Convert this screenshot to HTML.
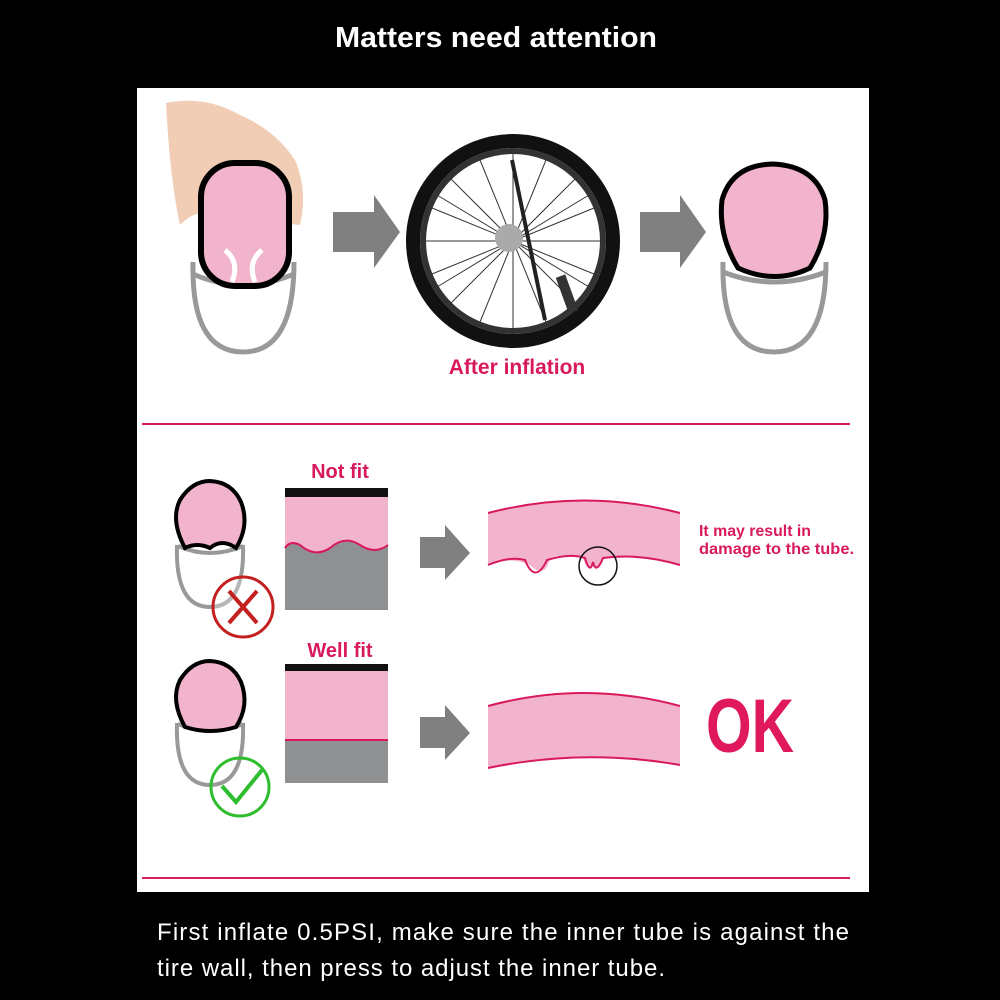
<!DOCTYPE html>
<html><head><style>
html,body{margin:0;padding:0;background:#000;}
svg{display:block}
text{font-family:"Liberation Sans",sans-serif}
</style></head><body>
<svg width="1000" height="1000" viewBox="0 0 1000 1000" xmlns="http://www.w3.org/2000/svg">
<rect width="1000" height="1000" fill="#000"/>
<text x="335" y="47" fill="#fff" font-size="29" font-weight="bold" textLength="322" lengthAdjust="spacingAndGlyphs">Matters need attention</text>
<rect x="137" y="88" width="732" height="804" fill="#fff"/>
<line x1="142" y1="424" x2="850" y2="424" stroke="#d9195e" stroke-width="2"/>
<line x1="142" y1="878" x2="850" y2="878" stroke="#d9195e" stroke-width="2"/>

<!-- tire 1 with hand -->
<path d="M193 262 Q191 352 243 352 Q294 352 294 262" fill="none" stroke="#999" stroke-width="5"/>
<path d="M193 274 Q243 296 294 274" fill="none" stroke="#999" stroke-width="5"/>
<path d="M166 103 Q205 95 240 115 Q275 130 295 160 Q308 190 300 225 L205 215 Q195 210 180 225 Q170 180 166 103Z" fill="#f1cdb6"/>
<rect x="201" y="163" width="88" height="123" rx="34" fill="#f2b3cc" stroke="#000" stroke-width="6"/>
<path d="M225 250 Q240 262 232 282 M262 250 Q247 262 255 282" stroke="#fff" stroke-width="5" fill="none"/>

<!-- arrow 1 -->
<path d="M333 212 H374 V195 L400 232 L374 268 V252 H333Z" fill="#808080"/>

<!-- wheel -->
<circle cx="513" cy="241" r="100" fill="none" stroke="#111" stroke-width="14"/>
<circle cx="513" cy="241" r="90" fill="none" stroke="#333" stroke-width="6"/>
<g stroke="#333" stroke-width="1">
<line x1="426" y1="241" x2="600" y2="241"/><line x1="513" y1="154" x2="513" y2="328"/>
<line x1="451" y1="179" x2="575" y2="303"/><line x1="575" y1="179" x2="451" y2="303"/>
<line x1="432" y1="208" x2="594" y2="274"/><line x1="594" y1="208" x2="432" y2="274"/>
<line x1="480" y1="160" x2="546" y2="322"/><line x1="546" y1="160" x2="480" y2="322"/>
<line x1="437" y1="195" x2="589" y2="287"/><line x1="589" y1="195" x2="437" y2="287"/>
</g>
<circle cx="509" cy="238" r="14" fill="#aaa"/>
<path d="M512 160 Q520 200 545 320" stroke="#222" stroke-width="4" fill="none"/>
<rect x="562" y="275" width="10" height="38" fill="#333" transform="rotate(-20 567 294)"/>
<text x="517" y="374" fill="#d9195e" font-size="21" font-weight="bold" text-anchor="middle">After inflation</text>

<!-- arrow 2 -->
<path d="M640 212 H680 V195 L706 232 L680 268 V252 H640Z" fill="#808080"/>

<!-- tire 3 -->
<path d="M723 262 Q721 352 774 352 Q826 352 826 262" fill="none" stroke="#999" stroke-width="5"/>
<path d="M723 272 Q774 292 826 272" fill="none" stroke="#999" stroke-width="5"/>
<path d="M738 268 Q718 235 722 200 Q732 165 773 164 Q815 166 825 200 Q830 235 810 268 Q775 285 738 268Z" fill="#f2b3cc" stroke="#000" stroke-width="5"/>

<!-- Not fit -->
<text x="340" y="478" fill="#d9195e" font-size="20" font-weight="bold" text-anchor="middle">Not fit</text>
<path d="M177 545 Q175 607 210 607 Q245 607 243 545" fill="none" stroke="#999" stroke-width="4"/>
<path d="M178 546 Q210 560 243 546" fill="none" stroke="#999" stroke-width="4"/>
<path d="M185 548 Q170 520 180 500 Q192 481 210 481 Q232 482 241 502 Q250 525 236 548 Q222 538 210 548 Q197 542 185 548Z" fill="#f2b3cc" stroke="#000" stroke-width="4"/>
<circle cx="243" cy="607" r="30" fill="#fff" fill-opacity="0.3" stroke="#c52020" stroke-width="3"/>
<path d="M229 591 L257 623 M257 591 L229 623" stroke="#c52020" stroke-width="4"/>
<rect x="285" y="488" width="103" height="9" fill="#111"/>
<path d="M285 497 H388 V545 Q375 555 360 545 Q345 535 330 548 Q315 558 300 545 Q290 540 285 548Z" fill="#f2b3cc"/>
<path d="M285 548 Q290 540 300 545 Q315 558 330 548 Q345 535 360 545 Q375 555 388 545 V610 H285Z" fill="#8f9092"/>
<path d="M285 548 Q290 540 300 545 Q315 558 330 548 Q345 535 360 545 Q375 555 388 545" stroke="#d9195e" stroke-width="2" fill="none"/>
<path d="M420 537 H445 V525 L470 553 L445 580 V568 H420Z" fill="#808080"/>
<path d="M488 513 Q584 488 680 513 V565 Q640 555 603 558 Q598 575 593 562 Q588 575 583 558 Q560 553 550 558 Q545 580 530 565 Q510 556 488 565Z" fill="#f2b3cc"/>
<path d="M488 513 Q584 488 680 513" stroke="#d9195e" stroke-width="2" fill="none"/>
<path d="M488 565 Q510 556 525 560 Q535 585 547 560 Q570 553 585 558 Q590 575 593 562 Q596 575 603 558 Q640 553 680 565" stroke="#d9195e" stroke-width="2" fill="none"/>
<circle cx="598" cy="566" r="19" fill="none" stroke="#111" stroke-width="1.5"/>
<text x="699" y="536" fill="#d9195e" font-size="16" font-weight="bold" textLength="112" lengthAdjust="spacingAndGlyphs">It may result in</text>
<text x="699" y="554" fill="#d9195e" font-size="16" font-weight="bold" textLength="155" lengthAdjust="spacingAndGlyphs">damage to the tube.</text>

<!-- Well fit -->
<text x="340" y="657" fill="#d9195e" font-size="20" font-weight="bold" text-anchor="middle">Well fit</text>
<path d="M177 723 Q175 785 210 785 Q245 785 243 723" fill="none" stroke="#999" stroke-width="4"/>
<path d="M178 724 Q210 738 243 724" fill="none" stroke="#999" stroke-width="4"/>
<path d="M185 727 Q170 700 180 680 Q192 661 210 661 Q232 662 241 682 Q250 705 236 727 Q210 735 185 727Z" fill="#f2b3cc" stroke="#000" stroke-width="4"/>
<circle cx="240" cy="787" r="29" fill="none" stroke="#2ebd2e" stroke-width="3"/>
<path d="M222 786 L236 802 L262 770" stroke="#2ebd2e" stroke-width="4" fill="none"/>
<rect x="285" y="664" width="103" height="7" fill="#111"/>
<rect x="285" y="671" width="103" height="69" fill="#f2b3cc"/>
<rect x="285" y="740" width="103" height="43" fill="#8f9092"/>
<line x1="285" y1="740" x2="388" y2="740" stroke="#d9195e" stroke-width="2"/>
<path d="M420 717 H445 V705 L470 733 L445 760 V748 H420Z" fill="#808080"/>
<path d="M488 706 Q584 680 680 706 V765 Q584 748 488 768Z" fill="#f2b3cc"/>
<path d="M488 706 Q584 680 680 706 M488 768 Q584 748 680 765" stroke="#d9195e" stroke-width="2" fill="none"/>
<text x="706" y="752" fill="#e0195f" font-size="76" font-weight="bold" textLength="88" lengthAdjust="spacingAndGlyphs">OK</text>

<text x="157" y="940" fill="#fff" font-size="24" textLength="692" lengthAdjust="spacing">First inflate 0.5PSI, make sure the inner tube is against the</text>
<text x="157" y="976" fill="#fff" font-size="24" textLength="508" lengthAdjust="spacing">tire wall, then press to adjust the inner tube.</text>
</svg>
</body></html>
